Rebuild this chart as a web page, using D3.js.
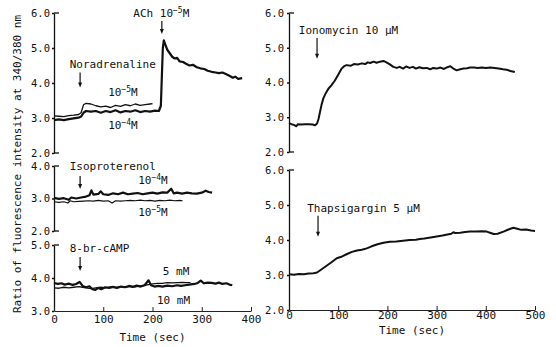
<!DOCTYPE html>
<html>
<head>
<meta charset="utf-8">
<script src="https://cdn.jsdelivr.net/npm/d3@7"></script>
<style>
  body { margin: 0; background: #fff; }
  text { font-family: "DejaVu Sans Mono", monospace; fill: #111; }
</style>
</head>
<body>
<div id="chart"></div>
<script>

// ---- data (time in sec, ratio 340/380) ----
var noradTimes   = [0,10,20,30,40,50,55,60,65,75,85,95,105,115,125,135,145,155,165,175,185,195,200];
var noradLow     = [3.06,3.05,3.04,3.07,3.08,3.1,3.15,3.38,3.42,3.4,3.35,3.32,3.34,3.3,3.36,3.33,3.38,3.35,3.4,3.36,3.38,3.4,3.41]; // 10-5 M

var achTimes     = [0,10,20,30,40,50,55,60,65,75,85,95,105,115,125,135,145,155,165,175,185,195,205,213,217,219,221,223,226,230,235,240,245,250,255,262,268,275,282,290,297,305,312,320,328,335,342,350,357,363,368,374,382];
var noradHighAch = [2.94,2.96,2.94,2.97,2.99,3.01,3.04,3.15,3.2,3.18,3.2,3.15,3.2,3.17,3.22,3.16,3.2,3.18,3.22,3.17,3.2,3.18,3.21,3.2,3.35,4.2,5.0,5.22,5.1,4.95,4.85,4.75,4.7,4.72,4.62,4.6,4.55,4.5,4.52,4.45,4.42,4.4,4.35,4.32,4.3,4.28,4.3,4.25,4.2,4.15,4.18,4.12,4.14]; // 10-4 M then ACh

var isoHighTimes = [0,10,20,30,35,45,55,65,72,76,80,90,95,100,110,120,130,140,150,160,170,180,190,200,210,220,230,238,243,250,260,270,280,290,300,308,314,321];
var isoHigh      = [3.02,2.99,3.01,2.96,3.03,3.0,3.03,3.06,3.1,3.25,3.12,3.14,3.22,3.13,3.11,3.16,3.13,3.18,3.13,3.15,3.17,3.13,3.16,3.18,3.15,3.19,3.18,3.3,3.16,3.18,3.15,3.18,3.16,3.15,3.18,3.24,3.2,3.18]; // 10-4 M
var isoLowTimes  = [0,10,20,28,33,40,50,60,70,80,90,100,110,118,125,135,145,155,165,175,185,195,205,215,225,235,245,255,261];
var isoLow       = [2.9,2.88,2.9,2.86,2.93,2.9,2.91,2.92,2.93,2.92,2.94,2.92,2.93,2.86,2.93,2.92,2.93,2.94,2.93,2.95,2.93,2.94,2.92,2.94,2.93,2.95,2.93,2.94,2.93]; // 10-5 M

var campHighTimes = [0,8,15,22,30,38,45,52,58,65,72,78,84,90,96,104,112,120,128,136,144,152,160,168,176,184,192,197,204,212,220,230,240,250,258,266,275,285,292,298,304,312,320,328,335,342,350,356,362];
var campHigh      = [3.85,3.82,3.84,3.8,3.83,3.79,3.82,3.88,3.76,3.72,3.75,3.66,3.64,3.7,3.66,3.72,3.7,3.73,3.7,3.74,3.72,3.76,3.73,3.77,3.74,3.78,3.93,3.78,3.74,3.76,3.74,3.77,3.75,3.78,3.76,3.78,3.8,3.82,3.85,3.92,3.84,3.86,3.85,3.83,3.86,3.82,3.84,3.8,3.78]; // 10 mM
var campLowTimes  = [0,10,20,30,40,50,58,65,75,85,95,105,115,125,135,145,155,165,175,185,192,200,210,220,230,240,250,260,270,277];
var campLow       = [3.7,3.69,3.72,3.7,3.72,3.74,3.72,3.7,3.68,3.7,3.72,3.7,3.73,3.71,3.74,3.72,3.75,3.73,3.76,3.78,3.8,3.82,3.84,3.84,3.86,3.85,3.86,3.87,3.86,3.86]; // 5 mM

var ionoTimes = [0,5,10,15,18,25,32,40,48,53,57,60,63,66,70,75,80,86,93,100,107,112,117,125,132,140,148,155,160,165,172,178,185,192,198,205,212,219,225,232,238,245,252,258,265,272,280,287,293,300,308,315,322,328,334,341,348,355,362,368,376,384,392,400,409,418,426,435,442,450,459];
var iono      = [2.83,2.8,2.78,2.74,2.8,2.79,2.8,2.8,2.79,2.77,2.82,2.95,3.15,3.35,3.55,3.7,3.82,3.92,4.05,4.22,4.4,4.47,4.5,4.48,4.53,4.52,4.55,4.53,4.58,4.56,4.6,4.57,4.6,4.62,4.58,4.52,4.45,4.42,4.45,4.4,4.46,4.42,4.45,4.4,4.44,4.41,4.42,4.38,4.42,4.4,4.43,4.39,4.44,4.47,4.4,4.35,4.38,4.4,4.41,4.43,4.43,4.42,4.43,4.42,4.43,4.42,4.4,4.38,4.37,4.33,4.3];

var thapTimes = [0,10,20,30,40,50,57,65,75,85,97,108,118,128,138,148,158,168,180,192,205,218,232,245,258,266,275,288,300,312,322,330,334,338,348,358,368,380,392,402,410,416,424,436,446,456,464,472,482,492,500];
var thap      = [3.02,3.01,3.03,3.02,3.04,3.05,3.07,3.15,3.25,3.35,3.48,3.53,3.6,3.66,3.7,3.72,3.76,3.82,3.88,3.92,3.95,3.96,3.98,4.0,4.01,4.03,4.04,4.07,4.1,4.13,4.16,4.18,4.22,4.2,4.21,4.23,4.24,4.24,4.25,4.24,4.2,4.17,4.18,4.24,4.3,4.35,4.32,4.29,4.3,4.27,4.26];

// drug addition times (sec)
var noradAdd = 53, achAdd = 219, isoAdd = 53, campAdd = 53, ionoAdd = 57, thapAdd = 59;

var leftTicksX  = [0,100,200,300,400];
var rightTicksX = [0,100,200,300,400,500];

var svg = d3.select("#chart").append("svg")
    .attr("width", 556)
    .attr("height", 347);
svg.append("rect").attr("width", 556).attr("height", 347).attr("fill", "#fff");

var xLeft  = d3.scaleLinear().domain([0,400]).range([54,251]);
var xRight = d3.scaleLinear().domain([0,500]).range([289,535]);

var yA = d3.scaleLinear().domain([2,6]).range([153,13]);
var yB = d3.scaleLinear().domain([2,4]).range([231,166]);
var yC = d3.scaleLinear().domain([3,5]).range([311,245]);
var yD = d3.scaleLinear().domain([2,6]).range([152,13]);
var yE = d3.scaleLinear().domain([2,6]).range([310,170]);

function yAxis(x, y, ticks, pad, bottomEnd)
{
  var g = svg.append("g").attr("transform", "translate(" + x.range()[0] + ",0)");
  g.call(d3.axisLeft(y).tickValues(ticks).tickFormat(d3.format(".1f"))
      .tickSize(2).tickSizeOuter(0).tickPadding(pad));
  g.selectAll("text").attr("font-size", 10.5).attr("font-family", "DejaVu Sans Mono");
  g.selectAll("path,line").attr("stroke", "#111").attr("stroke-width", 1.3);
  // little end ticks pointing right, like the original
  var ends = bottomEnd ? [y.domain()[1], y.domain()[0]] : [y.domain()[1]];
  ends.forEach(function(v) {
    g.append("line").attr("x1", 0).attr("x2", 5)
      .attr("y1", y(v)).attr("y2", y(v))
      .attr("stroke", "#111").attr("stroke-width", 1.3);
  });
}

function xAxis(x, y, ticks, pad)
{
  var g = svg.append("g").attr("transform", "translate(0," + y.range()[0] + ")");
  g.call(d3.axisBottom(x).tickValues(ticks).tickSize(-4).tickSizeOuter(0).tickPadding(pad));
  g.selectAll("text").attr("font-size", 11).attr("font-family", "DejaVu Sans Mono");
  g.selectAll("path,line").attr("stroke", "#222").attr("stroke-width", 1);
}

function trace(x, y, ts, vs, w)
{
  var pts = ts.map(function(t, i) { return [t, vs[i]]; });
  svg.append("path")
    .datum(pts)
    .attr("fill", "none")
    .attr("stroke", "#111")
    .attr("stroke-width", w)
    .attr("stroke-linejoin", "round")
    .attr("d", d3.line().x(function(d) { return x(d[0]); }).y(function(d) { return y(d[1]); }));
}

function arrow(x, y, t, v1, v2)
{
  var px = x(t), y1 = y(v1), y2 = y(v2);
  svg.append("line").attr("x1", px).attr("x2", px).attr("y1", y1).attr("y2", y2 - 4)
    .attr("stroke", "#111").attr("stroke-width", 1.2);
  svg.append("path")
    .attr("d", "M" + (px - 2) + "," + (y2 - 5) + "L" + (px + 2) + "," + (y2 - 5) + "L" + px + "," + y2 + "Z")
    .attr("fill", "#111");
}

function label(x, y, t, v, txt, anchor)
{
  svg.append("text").attr("x", x(t)).attr("y", y(v))
    .attr("font-size", 11).attr("text-anchor", anchor || "start").text(txt);
}

// "10^-nM" style label
function molar(x, y, t, v, base, exp, unit)
{
  var tx = svg.append("text").attr("x", x(t)).attr("y", y(v)).attr("font-size", 11);
  tx.append("tspan").text(base);
  tx.append("tspan").attr("dy", -4).attr("font-size", 8).text(exp);
  tx.append("tspan").attr("dy", 4).text(unit);
}

// ---- axes ----
yAxis(xLeft, yA, [2,3,4,5,6], 2, true);
yAxis(xLeft, yB, [2,3,4], 2, true);
yAxis(xLeft, yC, [3,4,5], 2, false);
xAxis(xLeft, yC, leftTicksX, 4);

yAxis(xRight, yD, [2,3,4,5,6], 3, true);
yAxis(xRight, yE, [2,3,4,5,6], 3, false);
xAxis(xRight, yE, rightTicksX, 1);

// ---- traces ----
trace(xLeft, yA, noradTimes, noradLow, 1.3);
trace(xLeft, yA, achTimes, noradHighAch, 2.2);
trace(xLeft, yB, isoLowTimes, isoLow, 1.2);
trace(xLeft, yB, isoHighTimes, isoHigh, 2.2);
trace(xLeft, yC, campLowTimes, campLow, 1.3);
trace(xLeft, yC, campHighTimes, campHigh, 2.2);
trace(xRight, yD, ionoTimes, iono, 2);
trace(xRight, yE, thapTimes, thap, 2);

// ---- annotations ----
molar(xLeft, yA, achAdd - 58, 5.89, "ACh 10", "\u22125", "M");
arrow(xLeft, yA, achAdd, 5.77, 5.4);
label(xLeft, yA, noradAdd - 21, 4.44, "Noradrenaline");
arrow(xLeft, yA, noradAdd, 4.3, 3.87);
molar(xLeft, yA, 110, 3.62, "10", "\u22125", "M");
molar(xLeft, yA, 110, 2.68, "10", "\u22124", "M");

label(xLeft, yB, isoAdd - 21, 3.88, "Isoproterenol");
arrow(xLeft, yB, isoAdd, 3.69, 3.29);
molar(xLeft, yB, 171, 3.45, "10", "\u22124", "M");
molar(xLeft, yB, 171, 2.46, "10", "\u22125", "M");

label(xLeft, yC, campAdd - 21, 4.79, "8-br-cAMP");
arrow(xLeft, yC, campAdd, 4.64, 4.21);
label(xLeft, yC, 221, 4.09, "5 mM");
label(xLeft, yC, 209, 3.21, "10 mM");

label(xRight, yD, ionoAdd - 37, 5.4, "Ionomycin 10 \u03bcM");
arrow(xRight, yD, ionoAdd, 5.28, 4.68);
label(xRight, yE, thapAdd - 22, 4.8, "Thapsigargin 5 \u03bcM");
arrow(xRight, yE, thapAdd, 4.69, 4.09);

// axis titles
svg.append("text").attr("x", d3.mean(xLeft.range())).attr("y", 341)
  .attr("font-size", 11).attr("text-anchor", "middle").text("Time (sec)");
svg.append("text").attr("x", d3.mean(xRight.range())).attr("y", 334)
  .attr("font-size", 11).attr("text-anchor", "middle").text("Time (sec)");
svg.append("text")
  .attr("transform", "translate(21,164) rotate(-90)")
  .attr("font-size", 11).attr("text-anchor", "middle")
  .text("Ratio of fluorescence intensity at 340/380 nm");

</script>
</body>
</html>
